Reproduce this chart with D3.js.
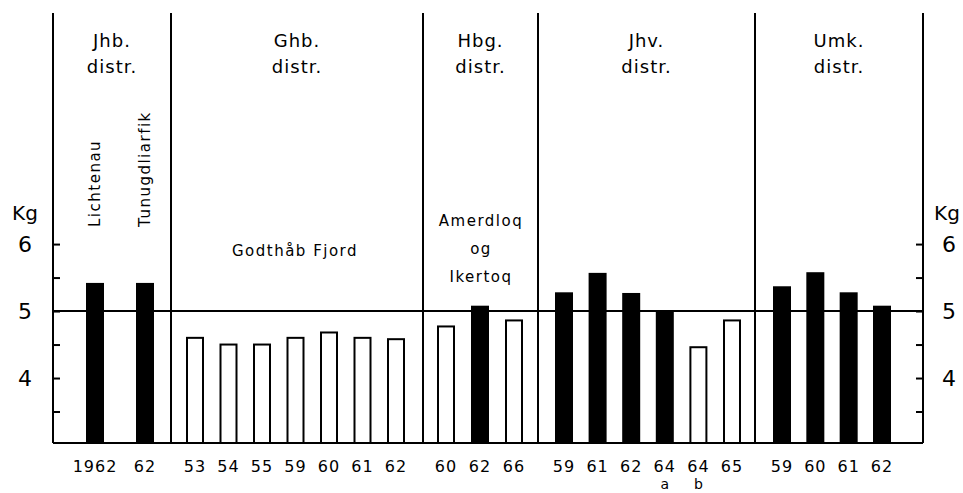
<!DOCTYPE html>
<html>
<head>
<meta charset="utf-8">
<script src="https://cdn.jsdelivr.net/npm/d3@7"></script>
<style>
body{margin:0;background:#fff;}
text{font-family:"DejaVu Sans",sans-serif;fill:#000;}
</style>
</head>
<body>
<svg id="svgID" width="963" height="493"></svg>
<script>
// districts, in order
var districts=["Jhb","Ghb","Hbg","Jhv","Umk"];
var districtNames=[["Jhb.","distr."],["Ghb.","distr."],["Hbg.","distr."],["Jhv.","distr."],["Umk.","distr."]];

// bars per district: year label, sub label, weight kg, filled (black) or open
var jhbYears=["1962","62"],   jhbKg=[5.42,5.42],  jhbFill=[1,1];
var ghbYears=["53","54","55","59","60","61","62"];
var ghbKg=[4.6,4.5,4.5,4.6,4.68,4.6,4.58];
var ghbFill=[0,0,0,0,0,0,0];
var hbgYears=["60","62","66"], hbgKg=[4.77,5.08,4.86], hbgFill=[0,1,0];
var jhvYears=["59","61","62","64","64","65"], jhvSub=["","","","a","b",""];
var jhvKg=[5.28,5.57,5.27,4.99,4.46,4.86], jhvFill=[1,1,1,1,0,0];
var umkYears=["59","60","61","62"], umkKg=[5.37,5.58,5.28,5.08], umkFill=[1,1,1,1];

var yTicks=[3.5,4,4.5,5,5.5,6];
var refLine=5;

var svg=d3.select("#svgID");
var y=d3.scaleLinear().domain([3.03,9.45]).range([443,13]);

var xLeft=53, xRight=923;
var dividers=[171,423,538,755];
// pixel span of bar centres inside each district
var spans=[[95,145],[195,396],[446,514],[564,732],[782,882]];
var barW=18;

var groups=[
    {years:jhbYears,kg:jhbKg,fill:jhbFill},
    {years:ghbYears,kg:ghbKg,fill:ghbFill},
    {years:hbgYears,kg:hbgKg,fill:hbgFill},
    {years:jhvYears,kg:jhvKg,fill:jhvFill,sub:jhvSub},
    {years:umkYears,kg:umkKg,fill:umkFill}
];

// bars
groups.forEach(function(g,gi){
    var x=d3.scalePoint().domain(d3.range(g.years.length)).range(spans[gi]);
    var rows=g.years.map(function(yr,i){return {i:i,yr:yr,kg:g.kg[i],f:g.fill[i],sub:g.sub?g.sub[i]:""};});
    var gg=svg.append("g");
    gg.selectAll("rect").data(rows).enter().append("rect")
        .attr("x",function(d){return x(d.i)-barW/2+(d.f?0:1);})
        .attr("width",function(d){return d.f?barW:barW-2;})
        .attr("y",function(d){return y(d.kg);})
        .attr("height",function(d){return y(3.03)-y(d.kg);})
        .attr("fill",function(d){return d.f?"#000":"#fff";})
        .attr("stroke","#000")
        .attr("stroke-width",function(d){return d.f?0:2;});
    gg.selectAll("text.yr").data(rows).enter().append("text")
        .attr("class","yr")
        .attr("x",function(d){return x(d.i);})
        .attr("y",472)
        .attr("text-anchor","middle")
        .attr("font-size",16)
        .attr("letter-spacing",1)
        .text(function(d){return d.yr;});
    gg.selectAll("text.sub").data(rows.filter(function(d){return d.sub;})).enter().append("text")
        .attr("class","sub")
        .attr("x",function(d){return x(d.i);})
        .attr("y",489)
        .attr("text-anchor","middle")
        .attr("font-size",14)
        .text(function(d){return d.sub;});
});

// reference line at 5 kg
svg.append("line")
    .attr("x1",xLeft).attr("x2",xRight)
    .attr("y1",y(refLine)).attr("y2",y(refLine))
    .attr("stroke","#000").attr("stroke-width",2);

// baseline
svg.append("line")
    .attr("x1",xLeft).attr("x2",xRight)
    .attr("y1",443).attr("y2",443)
    .attr("stroke","#000").attr("stroke-width",2);

// district dividers
svg.selectAll("line.div").data(dividers).enter().append("line")
    .attr("class","div")
    .attr("x1",function(d){return d;}).attr("x2",function(d){return d;})
    .attr("y1",13).attr("y2",443)
    .attr("stroke","#000").attr("stroke-width",2);

// axes
var fmt=function(d){return d%1===0?d:"";};
var leftAxis=d3.axisLeft(y).tickValues(yTicks).tickSize(-7).tickPadding(21).tickFormat(fmt);
var rightAxis=d3.axisRight(y).tickValues(yTicks).tickSize(-7).tickPadding(19).tickFormat(fmt);
[[leftAxis,xLeft],[rightAxis,xRight]].forEach(function(a){
    var ax=svg.append("g").attr("transform","translate("+a[1]+",0)").call(a[0]);
    ax.select(".domain").remove();
    ax.selectAll(".tick line").attr("stroke","#000").attr("stroke-width",2);
    ax.selectAll(".tick text").attr("font-size",22).attr("font-family","DejaVu Sans").attr("fill","#000");
    ax.append("line").attr("y1",13).attr("y2",443).attr("stroke","#000").attr("stroke-width",2);
});
svg.append("text").attr("x",25).attr("y",220).attr("text-anchor","middle").attr("font-size",20).text("Kg");
svg.append("text").attr("x",947).attr("y",220).attr("text-anchor","middle").attr("font-size",20).text("Kg");

// district headers
var bounds=[xLeft].concat(dividers).concat([xRight]);
districtNames.forEach(function(n,i){
    var cx=(bounds[i]+bounds[i+1])/2;
    n.forEach(function(t,j){
        svg.append("text").attr("x",cx).attr("y",47+j*26)
            .attr("text-anchor","middle").attr("font-size",18).attr("letter-spacing",1).text(t);
    });
});

// place names
var vertNames=[["Lichtenau",95],["Tunugdliarfik",145]];
vertNames.forEach(function(v){
    svg.append("text")
        .attr("transform","translate("+(v[1]+5)+",227) rotate(-90)")
        .attr("font-size",15).attr("letter-spacing",1.5).text(v[0]);
});
svg.append("text").attr("x",295).attr("y",256).attr("text-anchor","middle")
    .attr("font-size",15).attr("letter-spacing",1.5).text("Godthåb Fjord");
["Amerdloq","og","Ikertoq"].forEach(function(t,i){
    svg.append("text").attr("x",481).attr("y",226+i*28).attr("text-anchor","middle")
        .attr("font-size",15).attr("letter-spacing",1.5).text(t);
});
</script>
</body>
</html>
